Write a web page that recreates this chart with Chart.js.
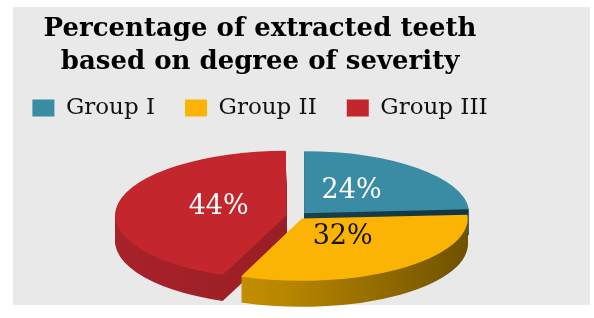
<!DOCTYPE html>
<html>
<head>
<meta charset="utf-8">
<script src="https://cdn.jsdelivr.net/npm/chart.js@4.4.1/dist/chart.umd.min.js"></script>
<style>
  html, body { margin: 0; padding: 0; background: #fff; }
  #wrap { width: 594px; height: 318px; }
</style>
</head>
<body>
<div id="wrap"><canvas id="myChart" width="594" height="318"></canvas></div>
<script>
// Datos del gráfico
const labels = ['Group I', 'Group II', 'Group III'];
const values = [24, 32, 44];
const titleLines = ['Percentage of extracted teeth', 'based on degree of severity'];

// Colores (cara superior y texto de las etiquetas)
const topColors = ['#3a8ba4', '#fcb404', '#c3272d'];
const labelColors = ['#ffffff', '#111111', '#ffffff'];

// Geometría del pastel 3D en pantalla
const PIE = { cx: 297, cy: 216, rx: 165, ry: 62, depth: 26, labelPos: 0.42, labelShift: -3 };

function sideFills(ctx, x, r) {
  const blue = ctx.createLinearGradient(x - r, 0, x + r, 0);
  blue.addColorStop(0, '#1d4a59');
  blue.addColorStop(1, '#123641');
  const yellow = ctx.createLinearGradient(x - r, 0, x + r, 0);
  yellow.addColorStop(0, '#d9a304');
  yellow.addColorStop(0.45, '#b88600');
  yellow.addColorStop(1, '#6f5200');
  const red = ctx.createLinearGradient(x - r, 0, x + r, 0);
  red.addColorStop(0, '#a8222a');
  red.addColorStop(1, '#8a1a20');
  return [blue, yellow, red];
}

const pie3d = {
  id: 'pie3d',
  beforeDraw(chart) {
    const ctx = chart.ctx;
    ctx.save();
    ctx.fillStyle = '#ffffff';
    ctx.fillRect(0, 0, chart.width, chart.height);
    ctx.fillStyle = '#e9e9e9';
    ctx.fillRect(13, 7, 577, 298);
    ctx.restore();
  },
  beforeDatasetsDraw(chart) {
    const ctx = chart.ctx;
    const arcs = chart.getDatasetMeta(0).data;
    const a0 = arcs[0];
    const sx = PIE.rx / a0.outerRadius, sy = PIE.ry / a0.outerRadius;
    ctx.save();
    ctx.translate(PIE.cx, PIE.cy);
    ctx.scale(sx, sy);
    ctx.translate(-a0.x, -a0.y);
    // lados del pastel: capas apiladas hacia abajo
    const sides = sideFills(ctx, a0.x, a0.outerRadius);
    for (let k = PIE.depth; k >= 1; k--) {
      ctx.save();
      ctx.translate(0, k / sy);
      arcs.forEach((arc, i) => {
        const ghost = Object.create(arc);
        ghost.options = Object.assign({}, arc.options, { backgroundColor: sides[i], borderWidth: 0 });
        arc.draw.call(ghost, ctx);
      });
      ctx.restore();
    }
    // la cara superior la dibuja Chart.js con esta misma transformación
  },
  afterDatasetsDraw(chart) {
    const ctx = chart.ctx;
    ctx.restore();
    const arcs = chart.getDatasetMeta(0).data;
    const a0 = arcs[0];
    const sx = PIE.rx / a0.outerRadius, sy = PIE.ry / a0.outerRadius;
    const total = values.reduce((a, b) => a + b, 0);
    ctx.save();
    ctx.font = '27px "DejaVu Serif"';
    ctx.textAlign = 'center';
    ctx.textBaseline = 'middle';
    arcs.forEach((arc, i) => {
      const mid = (arc.startAngle + arc.endAngle) / 2;
      const d = (arc.options.offset || 0) / 4 + PIE.labelPos * arc.outerRadius;
      const px = PIE.cx + Math.cos(mid) * d * sx;
      const py = PIE.cy + Math.sin(mid) * d * sy + PIE.labelShift;
      ctx.fillStyle = labelColors[i];
      ctx.fillText(Math.round(values[i] / total * 100) + '%', px, py);
    });
    ctx.restore();
  }
};

const chart = new Chart(document.getElementById('myChart'), {
  type: 'pie',
  data: {
    labels: labels,
    datasets: [{
      data: values,
      backgroundColor: topColors,
      borderWidth: 0,
      offset: [20, 16, 20]
    }]
  },
  options: {
    responsive: false,
    animation: false,
    events: [],
    layout: { padding: { top: 0, right: 74, bottom: 10, left: 0 } },
    plugins: {
      tooltip: { enabled: false },
      title: {
        display: true,
        text: titleLines,
        color: '#000000',
        font: { family: '"DejaVu Serif"', size: 26, weight: 'bold', lineHeight: 1.3 },
        padding: { top: 12, bottom: -13 }
      },
      legend: {
        position: 'top',
        labels: {
          color: '#111111',
          font: { family: '"DejaVu Serif"', size: 23 },
          boxWidth: 22,
          boxHeight: 17,
          padding: 30
        }
      }
    }
  },
  plugins: [pie3d]
});
</script>
</body>
</html>
